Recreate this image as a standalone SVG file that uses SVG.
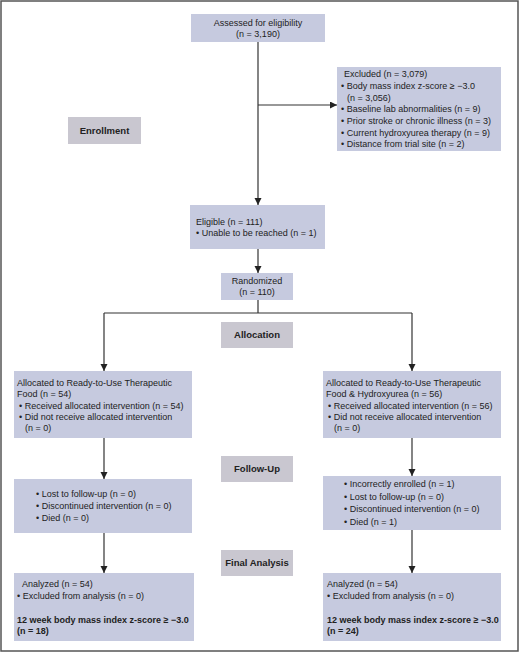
<svg xmlns="http://www.w3.org/2000/svg" width="520" height="653" viewBox="0 0 520 653">
<style>
.box{fill:#c6cadf;}
.sec{fill:#c9c7d0;}
text{font-family:"Liberation Sans",Arial,sans-serif;font-size:9px;fill:#222;}
.b{font-weight:bold;}
.s{font-weight:bold;font-size:9.5px;}
.c{text-anchor:middle;}
.ln{stroke:#333;stroke-width:1.2;fill:none;}
</style>
<defs>
<marker id="ah" markerUnits="userSpaceOnUse" markerWidth="8" markerHeight="8" refX="7" refY="3.5" orient="auto">
<path d="M0,0 L7,3.5 L0,7 Z" fill="#222"/>
</marker>
</defs>
<rect x="1" y="1" width="517" height="650" fill="#fff" stroke="#555" stroke-width="1.5"/>
<g id="connectors">
<path class="ln" d="M258,42 V205" marker-end="url(#ah)"/>
<path class="ln" d="M258,105 H337" marker-end="url(#ah)"/>
<path class="ln" d="M258,249 V273" marker-end="url(#ah)"/>
<path class="ln" d="M258,300 V313 M104,313 H412"/>
<path class="ln" d="M104,313 V371" marker-end="url(#ah)"/>
<path class="ln" d="M412,313 V371" marker-end="url(#ah)"/>
<path class="ln" d="M104,438 V479" marker-end="url(#ah)"/>
<path class="ln" d="M412,438 V476" marker-end="url(#ah)"/>
<path class="ln" d="M104,533 V573" marker-end="url(#ah)"/>
<path class="ln" d="M412,530 V573" marker-end="url(#ah)"/>
</g>
<g id="assessed">
<rect class="box" x="191" y="14" width="134" height="28"/>
<text class="c" x="258" y="26">Assessed for eligibility</text>
<text class="c" x="258" y="37">(n = 3,190)</text>
</g>
<g id="excluded">
<rect class="box" x="337" y="67" width="164" height="84"/>
<text x="344" y="77">Excluded (n = 3,079)</text>
<text x="341" y="89">• Body mass index z-score ≥ −3.0</text>
<text x="347" y="101">(n = 3,056)</text>
<text x="341" y="112">• Baseline lab abnormalities (n = 9)</text>
<text x="341" y="124">• Prior stroke or chronic illness (n = 3)</text>
<text x="341" y="136">• Current hydroxyurea therapy (n = 9)</text>
<text x="341" y="147">• Distance from trial site (n = 2)</text>
</g>
<g id="enrollment">
<rect class="sec" x="68" y="117" width="73" height="27"/>
<text class="s c" x="104.5" y="134">Enrollment</text>
</g>
<g id="eligible">
<rect class="box" x="190" y="205" width="135" height="44"/>
<text x="196" y="225">Eligible (n = 111)</text>
<text x="196" y="236">• Unable to be reached (n = 1)</text>
</g>
<g id="randomized">
<rect class="box" x="221" y="273" width="72" height="27"/>
<text class="c" x="257" y="284">Randomized</text>
<text class="c" x="257" y="295">(n = 110)</text>
</g>
<g id="allocation">
<rect class="sec" x="221" y="322" width="72" height="26"/>
<text class="s c" x="257" y="338">Allocation</text>
</g>
<g id="alloc-left">
<rect class="box" x="14" y="371" width="178" height="67"/>
<text x="17" y="386">Allocated to Ready-to-Use Therapeutic</text>
<text x="17" y="397">Food (n = 54)</text>
<text x="19" y="409">• Received allocated intervention (n = 54)</text>
<text x="19" y="420">• Did not receive allocated intervention</text>
<text x="25" y="431">(n = 0)</text>
</g>
<g id="alloc-right">
<rect class="box" x="323" y="371" width="178" height="67"/>
<text x="326" y="386">Allocated to Ready-to-Use Therapeutic</text>
<text x="326" y="397">Food &amp; Hydroxyurea (n = 56)</text>
<text x="328" y="409">• Received allocated intervention (n = 56)</text>
<text x="328" y="420">• Did not receive allocated intervention</text>
<text x="334" y="431">(n = 0)</text>
</g>
<g id="followup">
<rect class="sec" x="221" y="456" width="72" height="26"/>
<text class="s c" x="257" y="472">Follow-Up</text>
</g>
<g id="follow-left">
<rect class="box" x="14" y="479" width="178" height="54"/>
<text x="36" y="497">• Lost to follow-up (n = 0)</text>
<text x="36" y="509">• Discontinued intervention (n = 0)</text>
<text x="36" y="521">• Died (n = 0)</text>
</g>
<g id="follow-right">
<rect class="box" x="323" y="476" width="178" height="54"/>
<text x="344" y="487">• Incorrectly enrolled (n = 1)</text>
<text x="344" y="500">• Lost to follow-up (n = 0)</text>
<text x="344" y="512">• Discontinued intervention (n = 0)</text>
<text x="344" y="525">• Died (n = 1)</text>
</g>
<g id="final">
<rect class="sec" x="221" y="550" width="72" height="26"/>
<text class="s c" x="257" y="566">Final Analysis</text>
</g>
<g id="final-left">
<rect class="box" x="14" y="573" width="180" height="68"/>
<text x="22" y="587">Analyzed (n = 54)</text>
<text x="17" y="599">• Excluded from analysis (n = 0)</text>
<text class="b" x="17" y="623">12 week body mass index z-score ≥ −3.0</text>
<text class="b" x="17" y="634">(n = 18)</text>
</g>
<g id="final-right">
<rect class="box" x="323" y="573" width="178" height="68"/>
<text x="327" y="587">Analyzed (n = 54)</text>
<text x="327" y="599">• Excluded from analysis (n = 0)</text>
<text class="b" x="327" y="623">12 week body mass index z-score ≥ −3.0</text>
<text class="b" x="327" y="634">(n = 24)</text>
</g>
</svg>
